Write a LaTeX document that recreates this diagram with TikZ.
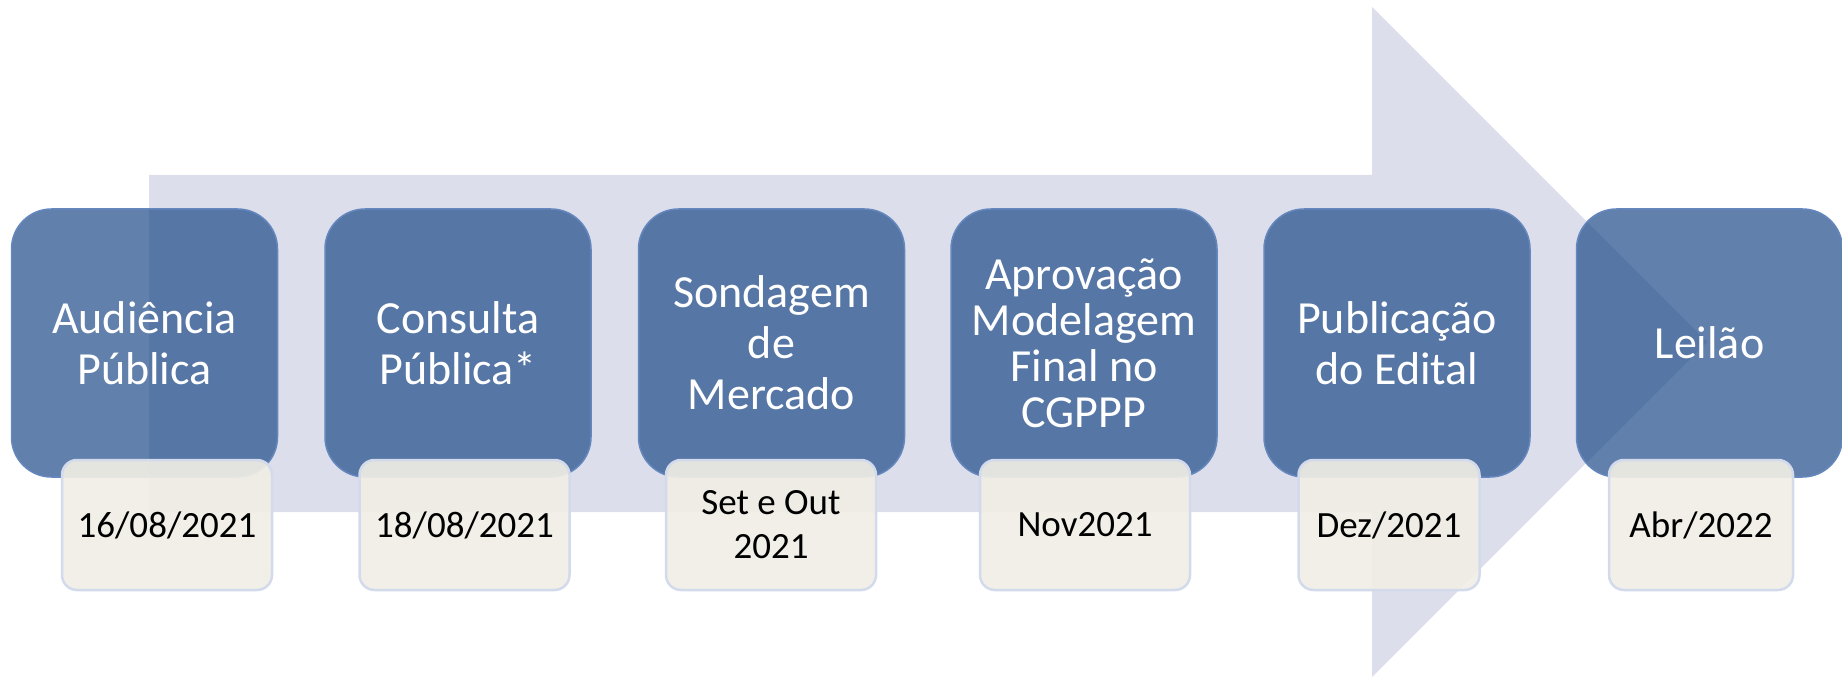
\documentclass[tikz,border=0pt]{standalone}
\usepackage{fontspec}
\setmainfont{Carlito}
\usepackage{tikz}
\usetikzlibrary{positioning}
\definecolor{arrowbg}{RGB}{220,222,235}
\definecolor{stageblue}{RGB}{30,74,136}
\definecolor{stageedge}{RGB}{100,135,190}
\definecolor{datefill}{RGB}{240,238,229}
\definecolor{dateedge}{RGB}{210,218,236}
\tikzset{stage/.style={rounded corners=40pt,fill=stageblue,fill opacity=0.7,text opacity=1,
    draw=stageedge,line width=1.5pt,text=white,align=center,
    minimum width=266pt,minimum height=268pt,inner sep=0pt,font=\fontsize{46}{51}\selectfont}}
\tikzset{datebox/.style={rounded corners=15pt,fill=datefill,fill opacity=0.92,text opacity=1,
    draw=dateedge,line width=2.5pt,align=center,
    minimum width=210pt,minimum height=130pt,inner sep=0pt,font=\fontsize{37}{44}\selectfont}}

\begin{document}
\begin{tikzpicture}[x=1pt,y=-1pt]
  \useasboundingbox (0,0) rectangle (1842,679);
  \fill[arrowbg] (149,175) -- (1372,175) -- (1372,7) -- (1707,342)
    -- (1372,677) -- (1372,512) -- (149,512) -- cycle;
  \node[stage] (aud) at (144.5,343) {Audiência\\Pública};
  \node[stage] (cons) at (458,343) {Consulta\\Pública*};
  \node[stage] (sond) at (771.5,343) {Sondagem\\de\\Mercado};
  \node[stage,font=\fontsize{46}{46}\selectfont] (aprov) at (1084,343) {Aprovação\\Modelagem\\Final no\\CGPPP};
  \node[stage] (publ) at (1397,343) {Publicação\\do Edital};
  \node[stage] (leil) at (1709.5,343) {Leilão};
  \node[datebox] (daud) at (167,525) {16/08/2021};
  \node[datebox] (dcons) at (464.5,525) {18/08/2021};
  \node[datebox] (dsond) at (771,525) {Set e Out\\2021};
  \node[datebox] (daprov) at (1085,525) {Nov2021};
  \node[datebox,minimum width=181pt] (dpubl) at (1389,525) {Dez/2021};
  \node[datebox,minimum width=184pt] (dleil) at (1701,525) {Abr/2022};
\end{tikzpicture}
\end{document}
